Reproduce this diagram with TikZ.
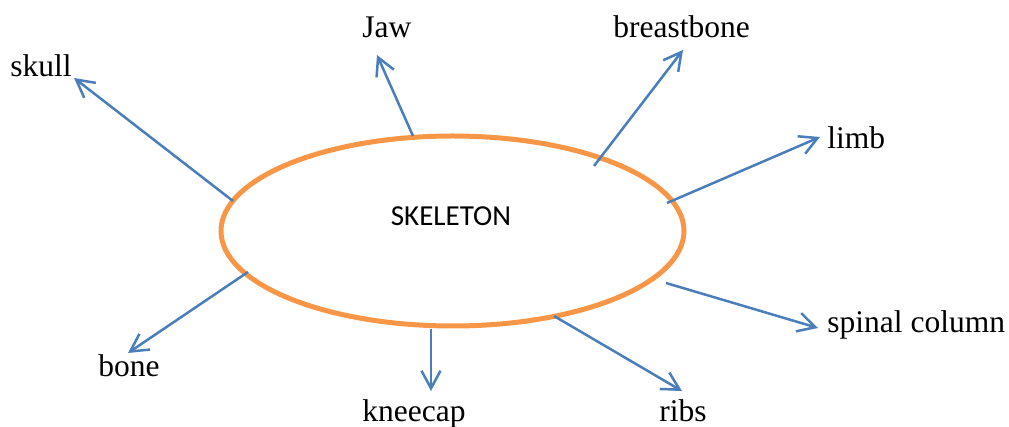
\documentclass[tikz,border=0pt]{standalone}
\usepackage{fontspec}
\setmainfont{Liberation Serif}
\newfontfamily\carlitofont{Carlito}
\usepackage{tikz}
\usetikzlibrary{arrows.meta,positioning,shapes.geometric}
\definecolor{skelorange}{RGB}{247,150,70}
\definecolor{linkblue}{RGB}{74,126,187}

\begin{document}
\begin{tikzpicture}[x=0.5pt,y=-0.5pt,
    hub/.style={ellipse,draw=skelorange,line width=2.5pt,minimum width=231.5pt,minimum height=95pt,inner sep=0pt,outer sep=0pt},
    lbl/.style={inner sep=0pt,anchor=base west,font=\fontsize{15.75}{19}\selectfont},
    link/.style={draw=linkblue,line width=1.25pt,-{Straight Barb[length=8.8pt,width=9.5pt]}}]
  \useasboundingbox (0,0) rectangle (1009,427);
  \node[hub] (skel) at (452.5,231) {};
  \node[anchor=base,inner sep=0pt,font=\carlitofont\fontsize{14.5}{17}\selectfont] (skelname) at (451,226) {SKELETON};
  % labels
  \foreach \nm/\x/\y/\txt in {skull/10/77/skull, jaw/362/38/Jaw, breastbone/613/38/breastbone,
      limb/827/149/limb, spinal/827/333/spinal column, ribs/659/422/ribs,
      kneecap/362/422/kneecap, bone/98/377/bone}{
    \node[lbl] (\nm) at (\x,\y) {\txt};
  }
  % arrows out of the ellipse
  \foreach \nm/\sx/\sy/\an/\tx/\ty in {skull/-219.5/-30/base east/2/1, jaw/-39.5/-95/base west/15/17,
      breastbone/141.5/-65/base west/70/12, limb/214.5/-28/base west/-7/-12,
      spinal/213.5/52/base west/-9/-5, ribs/101.5/85/base west/23/-31,
      kneecap/-21.5/98/base west/69/-31, bone/-204.5/41/base west/30/-24}{
    \draw[link] ([shift={(\sx,\sy)}]skel.center) -- ([shift={(\tx,\ty)}]\nm.\an);
  }
\end{tikzpicture}
\end{document}
